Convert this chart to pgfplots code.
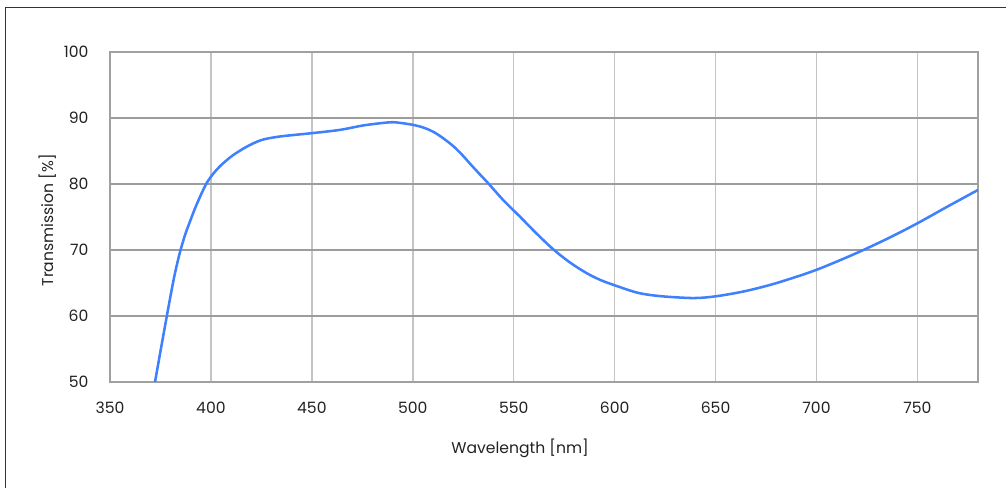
\documentclass[border=0pt]{standalone}
\usepackage{pgfplots}
\pgfplotsset{compat=1.18}
\usepackage{fontspec}
\setmainfont{Poppins}
\definecolor{curve}{HTML}{3F80FF}
\definecolor{framec}{HTML}{A0A0A0}
\definecolor{vgrid}{HTML}{C4C4C4}
\definecolor{hgrid}{HTML}{9C9C9C}
\definecolor{txt}{HTML}{222222}
\begin{document}
\begin{tikzpicture}[x=0.75pt,y=0.75pt]
\path[use as bounding box] (-110,-105) rectangle (896,382);
\draw[color=black!80, line width=0.75pt] (-104,-110) -- (-104,375) -- (900,375);
\begin{axis}[
  at={(0,0)}, anchor=south west,
  scale only axis, width=651pt, height=247.5pt,
  xmin=350, xmax=780, ymin=50, ymax=100,
  xtick={350,400,...,750}, ytick={50,60,...,100},
  major tick length=0pt,
  axis line style={framec, line width=1.1pt},
  grid=major,
  x grid style={vgrid, line width=1.1pt},
  y grid style={hgrid, line width=0.9pt},
  font=\fontsize{11.7pt}{13pt}\selectfont,
  tick label style={txt},
  /pgf/number format/assume math mode=true,
  /pgf/number format/set thousands separator={},
  yticklabel style={anchor=east, inner sep=0pt, xshift=-16pt},
  xticklabel style={anchor=north, inner sep=0pt, yshift=-15pt},
  xlabel={Wavelength [nm]},
  ylabel={Transmission [\%]},
  xlabel style={at={(axis description cs:0.4724,0)}, anchor=center, yshift=-50pt, txt},
  ylabel style={at={(axis description cs:0,0.49)}, anchor=center, rotate=0, yshift=46.5pt, txt},
  clip=true,
]
\addplot[curve, line width=1.9pt, smooth] coordinates {
(372.3,50) (375.2,55) (378.1,59.9) (380.2,63.4) (382.2,66.5) (384.6,69.6) (387.2,72.3) (389.6,74.3) (392.1,76.3) (394.8,78.2) (397.8,80.1) (401,81.5) (404.5,82.7) (407.8,83.6) (411.1,84.4) (417.7,85.65) (425.1,86.67) (434.2,87.2) (449.9,87.7) (463.9,88.2) (476,88.9) (488.7,89.35) (494,89.25) (500.3,88.95) (505.3,88.55) (510.2,87.9) (515,86.95) (520,85.75) (524.2,84.5) (528.3,83.1) (532.8,81.6) (537.4,80.1) (545,77.5) (553.1,75.05) (561.3,72.5) (569.6,70.1) (577.9,68.1) (586.1,66.5) (593,65.45) (600.5,64.6) (611.7,63.5) (623,63.0) (639,62.72) (650,62.98) (663.6,63.7) (676.9,64.7) (690.1,65.95) (700,67.0) (712,68.5) (723.2,70) (737,72.0) (750.3,74.1) (765,76.6) (780,79.1)
};
\end{axis}
\end{tikzpicture}
\end{document}
